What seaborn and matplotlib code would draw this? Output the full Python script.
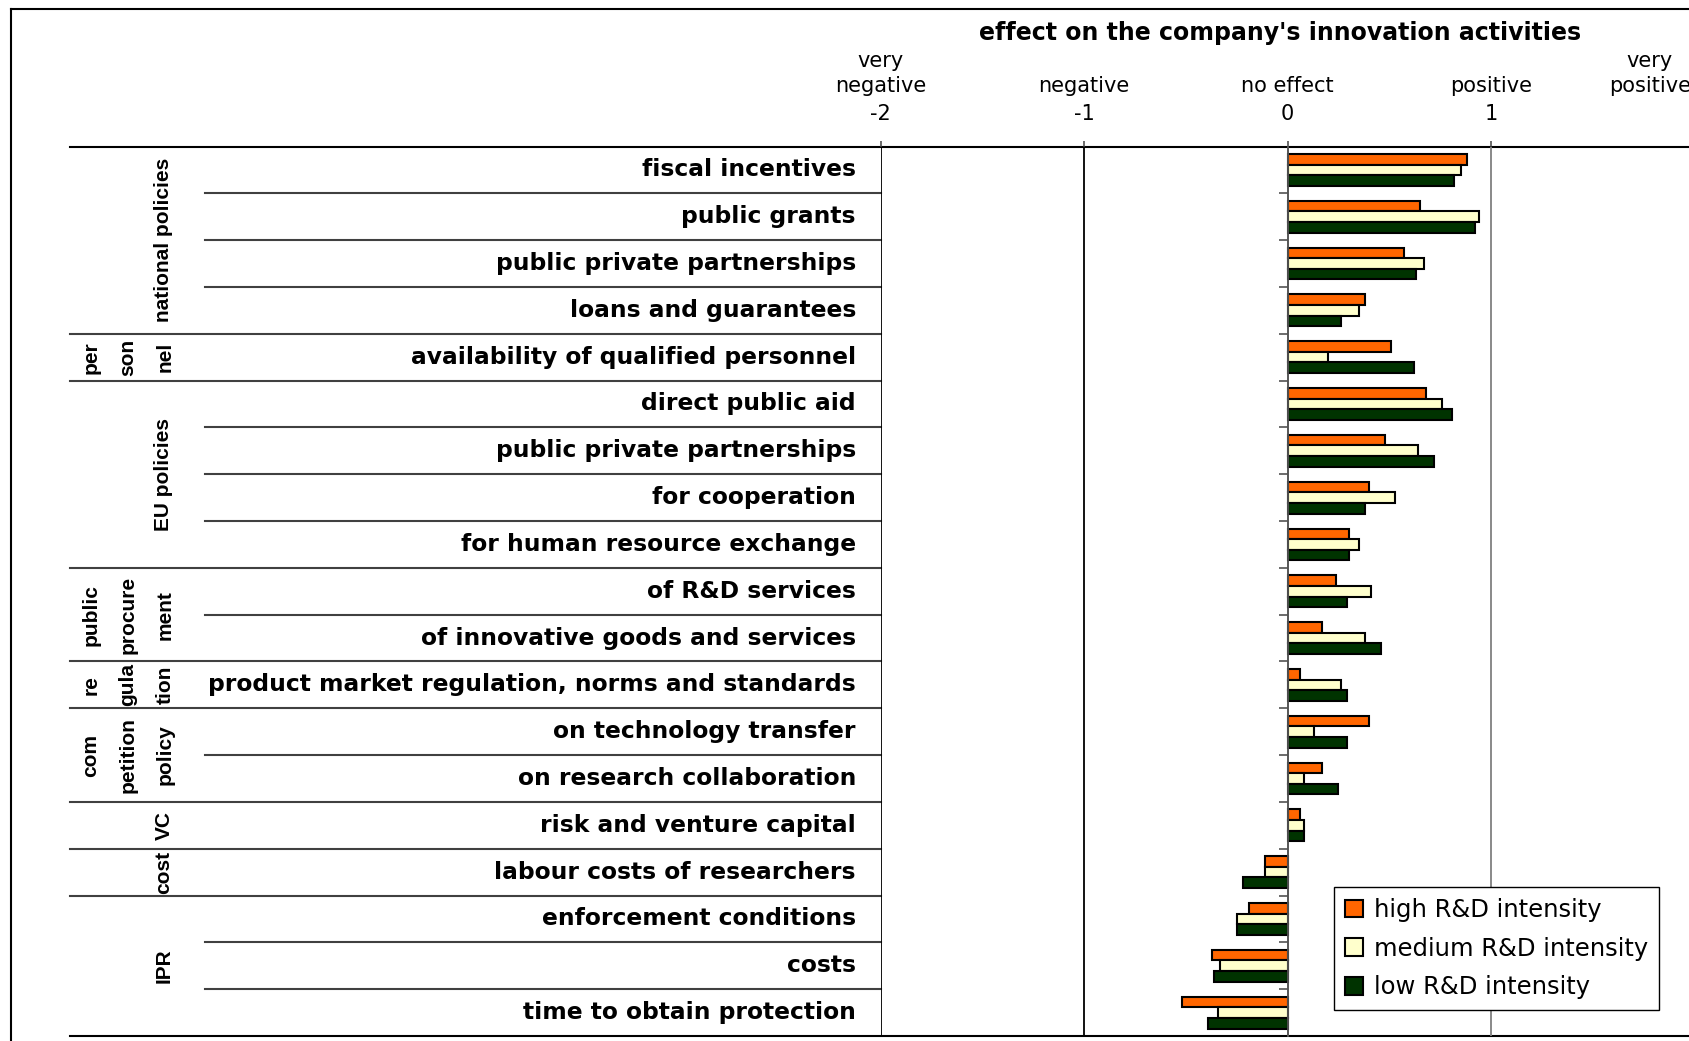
import numpy as np
import pandas as pd
import seaborn as sns
import matplotlib
matplotlib.use("Agg")
import matplotlib.pyplot as plt
from matplotlib.transforms import blended_transform_factory
from matplotlib.lines import Line2D

# ---- data -------------------------------------------------------------
group_text = [["national policies"], ["per", "son", "nel"], ["EU policies"],
              ["public", "procure", "ment"], ["re", "gula", "tion"],
              ["com", "petition", "policy"], ["VC"], ["cost"], ["IPR"]]
group_sizes = [4, 1, 4, 2, 1, 2, 1, 1, 3]

items = ["fiscal incentives", "public grants", "public private partnerships",
         "loans and guarantees", "availability of qualified personnel",
         "direct public aid", "public private partnerships", "for cooperation",
         "for human resource exchange", "of R&D services",
         "of innovative goods and services",
         "product market regulation, norms and standards",
         "on technology transfer", "on research collaboration",
         "risk and venture capital", "labour costs of researchers",
         "enforcement conditions", "costs", "time to obtain protection"]

high = [0.88, 0.65, 0.57, 0.38, 0.51, 0.68, 0.48, 0.40, 0.30, 0.24, 0.17,
        0.06, 0.40, 0.17, 0.06, -0.11, -0.19, -0.37, -0.52]
medium = [0.85, 0.94, 0.67, 0.35, 0.20, 0.76, 0.64, 0.53, 0.35, 0.41, 0.38,
          0.26, 0.13, 0.08, 0.08, -0.11, -0.25, -0.33, -0.34]
low = [0.82, 0.92, 0.63, 0.26, 0.62, 0.81, 0.72, 0.38, 0.30, 0.29, 0.46,
       0.29, 0.29, 0.25, 0.08, -0.22, -0.25, -0.36, -0.39]

series = ["high R&D intensity", "medium R&D intensity", "low R&D intensity"]
colors = ["#FF6600", "#FFFFCC", "#003300"]

scale_ticks = [-2, -1, 0, 1, 2]
scale_names = ["very\nnegative", "negative", "no effect", "positive", "very\npositive"]

title = "effect on the company's innovation activities"

# ---- long-form table ---------------------------------------------------
keys = [f"{i:02d} {lab}" for i, lab in enumerate(items)]
df = pd.DataFrame({
    "key": keys * 3,
    "intensity": np.repeat(series, len(items)),
    "value": high + medium + low,
})

# ---- figure -------------------------------------------------------------
W, H = 1690, 1041
fig = plt.figure(figsize=(W / 100, H / 100), dpi=100, facecolor="white")

# pixel-coordinate overlay for the table frame and labels
ax0 = fig.add_axes([0, 0, 1, 1], zorder=0)
ax0.set_xlim(0, W)
ax0.set_ylim(H, 0)
ax0.axis("off")

left_px, unit_px = 880.6, 203.5
top_px, bot_px = 146.5, 1036.0
ax = fig.add_axes([left_px / W, 1 - bot_px / H, 4 * unit_px / W, (bot_px - top_px) / H],
                  zorder=1)
ax.patch.set_alpha(0)

sns.barplot(data=df, x="value", y="key", hue="intensity", order=keys,
            hue_order=series, palette=colors, orient="h", width=0.68,
            saturation=1, edgecolor="black", linewidth=1.5, errorbar=None, ax=ax)

ax.set_xlim(-2, 2)
ax.set_ylim(len(items) - 0.5, -0.5)
ax.set_xlabel("")
ax.set_ylabel("")

# category axis crossing at zero, ticks between categories
for s in ["top", "right", "bottom"]:
    ax.spines[s].set_visible(False)
ax.spines["left"].set_position(("data", 0))
ax.spines["left"].set_color("#555555")
ax.spines["left"].set_linewidth(1.3)
ax.set_yticks(np.arange(0.5, len(items) - 1, 1.0))
ax.set_yticklabels([])
ax.tick_params(axis="y", direction="out", length=6.5, width=1.1, color="#444444")

# value axis on top
ax.xaxis.tick_top()
ax.set_xticks(scale_ticks)
ax.set_xticklabels([str(t) for t in scale_ticks])
ax.tick_params(axis="x", top=True, bottom=False, labeltop=True, labelbottom=False,
               length=4, width=1.1, color="#444444", pad=12, labelsize=15)
ax.grid(axis="x", color="#808080", linewidth=1.3)
for t, gl in zip(scale_ticks, ax.xaxis.get_gridlines()):
    if t < 0:
        gl.set_color("black")
ax.set_axisbelow(True)

# legend
handles, labels = ax.get_legend_handles_labels()
ax.legend(handles, labels, loc="upper left",
          bbox_to_anchor=(1334 / W, 1 - 887 / H), bbox_transform=fig.transFigure,
          frameon=True, fancybox=False, edgecolor="black", framealpha=1,
          fontsize=17.5, handlelength=0.75, handleheight=0.75, labelspacing=0.6,
          borderpad=0.45, handletextpad=0.45, borderaxespad=0)
ax.get_legend().get_frame().set_linewidth(1.0)

# ---- table frame ----------------------------------------------------------
row_tf = blended_transform_factory(ax0.transData, ax.transData)
col_tf = blended_transform_factory(ax.transData, ax0.transData)
line_col = "#404040"

def hline(x0, x1, y, lw=1.5, color=line_col):
    ax0.add_line(Line2D([x0, x1], [y, y], transform=row_tf, color=color,
                        lw=lw, zorder=2))

hline(70, W, -0.5, color="black")
hline(70, W, len(items) - 0.5, color="black")

# outer chart border
ax0.add_line(Line2D([11, 11], [9, H], color="black", lw=1.5))
ax0.add_line(Line2D([11, W], [9, 9], color="black", lw=1.5))

start = 0
for gtext, size in zip(group_text, group_sizes):
    end = start + size
    # separators inside a group
    for b in range(start + 1, end):
        hline(205, left_px, b - 0.5)
    if end < len(items):
        hline(70, left_px, end - 0.5)
    yc = (start + end - 1) / 2
    cols = [164] if len(gtext) == 1 else [91, 128, 165]
    for xc, t in zip(cols, gtext):
        ax0.text(xc, yc, t, transform=row_tf, rotation=90, ha="center",
                 va="center", fontsize=15, fontweight="bold",
                 family="Liberation Sans")
    start = end

for i, lab in enumerate(items):
    ax0.text(856, i, lab, transform=row_tf, ha="right", va="center",
             fontsize=16.8, fontweight="bold", family="DejaVu Sans")

# ---- header ------------------------------------------------------------------
ax0.text(1280, 33, title, ha="center", va="center", fontsize=17,
         fontweight="bold", family="DejaVu Sans")
for t, name in zip(scale_ticks, scale_names):
    parts = name.split("\n")
    xt = min(t, 1.78)
    for k, part in enumerate(reversed(parts)):
        ax0.text(xt, 86 - 25 * k, part, transform=col_tf, ha="center",
                 va="center", fontsize=15, family="DejaVu Sans")

fig.savefig("out.png", dpi=100, facecolor="white")
